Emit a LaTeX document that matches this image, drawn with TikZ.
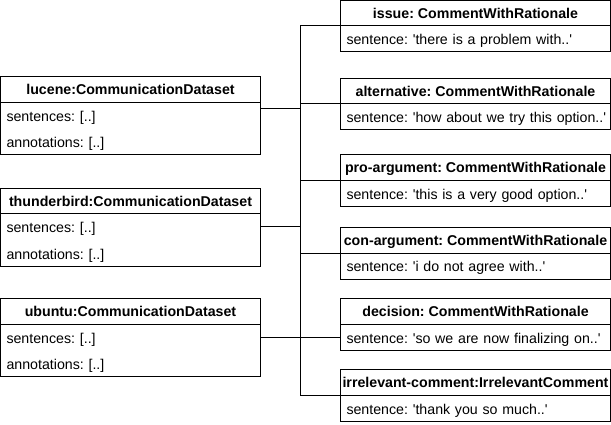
\documentclass[tikz,border=0pt]{standalone}
\usepackage{fontspec}
\setmainfont{Liberation Sans}
\usetikzlibrary{positioning}

\begin{document}
\begin{tikzpicture}[x=1pt,y=-1pt,line width=1pt,node distance=0pt,
                    font=\fontsize{14.2}{17}\selectfont\frenchspacing]
  \tikzstyle{every node}=[inner sep=0pt,outer sep=0pt]
  \tikzstyle{cls}=[draw,anchor=north west,minimum height=25.5pt,text height=10.3pt,
                   text depth=0pt,font=\fontsize{14.2}{17}\selectfont\frenchspacing\bfseries]
  \tikzstyle{dataset}=[cls,minimum width=260pt]
  \tikzstyle{comment}=[cls,minimum width=270pt]
  \tikzstyle{row}=[minimum height=26pt,text height=12pt,text depth=0pt,
                   inner xsep=6pt,align=left]
  \tikzstyle{drow}=[row,text width=248pt]
  \tikzstyle{crow}=[row,draw,text width=258pt]

  \useasboundingbox (0,0) rectangle (611,425);

  % datasets
     \node[dataset] (lucene)   at (0.5,77)     {lucene:CommunicationDataset};
  \node[drow] (luceneS)   [below=of lucene]     {sentences: [..]};
  \node[drow] (luceneA)   [below=of luceneS]    {annotations: [..]};

     \node[dataset] (thunder)   at (0.5,188.5)  {thunderbird:CommunicationDataset};
  \node[drow] (thunderS)   [below=of thunder]   {sentences: [..]};
  \node[drow] (thunderA)   [below=of thunderS]  {annotations: [..]};

     \node[dataset] (ubuntu)   at (0.5,298.5)   {ubuntu:CommunicationDataset};
  \node[drow] (ubuntuS)   [below=of ubuntu]     {sentences: [..]};
  \node[drow] (ubuntuA)   [below=of ubuntuS]    {annotations: [..]};

  \draw (luceneS.north west) rectangle (luceneA.south east);
  \draw (thunderS.north west) rectangle (thunderA.south east);
  \draw (ubuntuS.north west) rectangle (ubuntuA.south east);

  % comments
     \node[comment] (issue)   at (340.5,0.5)     {issue: CommentWithRationale};
  \node[crow] (issueS)   [below=of issue]        {\mbox{sentence: \textquotesingle there is a problem with..\textquotesingle}};

     \node[comment] (alternative)   at (340.5,78.5)  {alternative: CommentWithRationale};
  \node[crow] (alternativeS)   [below=of alternative]  {\mbox{sentence: \textquotesingle how about we try this option..\textquotesingle}};

     \node[comment] (pro)   at (340.5,155)       {pro-argument: CommentWithRationale};
  \node[crow] (proS)   [below=of pro]            {\mbox{sentence: \textquotesingle this is a very good option..\textquotesingle}};

     \node[comment] (con)   at (340.5,227.5)     {con-argument: CommentWithRationale};
  \node[crow] (conS)   [below=of con]            {\mbox{sentence: \textquotesingle i do not agree with..\textquotesingle}};

     \node[comment] (decision)   at (340.5,298.5)  {decision: CommentWithRationale};
  \node[crow] (decisionS)   [below=of decision]  {\mbox{sentence: \textquotesingle so we are now finalizing on..\textquotesingle}};

     \node[comment] (irrelevant)   at (340.5,369.5)  {irrelevant-comment:IrrelevantComment};
  \node[crow] (irrelevantS)   [below=of irrelevant]  {\mbox{sentence: \textquotesingle thank you so much..\textquotesingle}};

  \coordinate (bus) at (300.5,0);
  \coordinate (luceneE) at ([yshift=7pt]luceneS.east);

  \draw (issue.south west) -| (bus |- irrelevant.south west) -- (irrelevant.south west);

  \path
      (alternative.south west) edge (alternative.south west -| bus)
      (pro.south west) edge (pro.south west -| bus)
      (con.south west) edge (con.south west -| bus)

      (luceneE) edge (luceneE -| bus)
      (thunderS.east) edge (thunderS.east -| bus)
      (ubuntuS.east) edge (decisionS.west)
      ;

\end{tikzpicture}
\end{document}
